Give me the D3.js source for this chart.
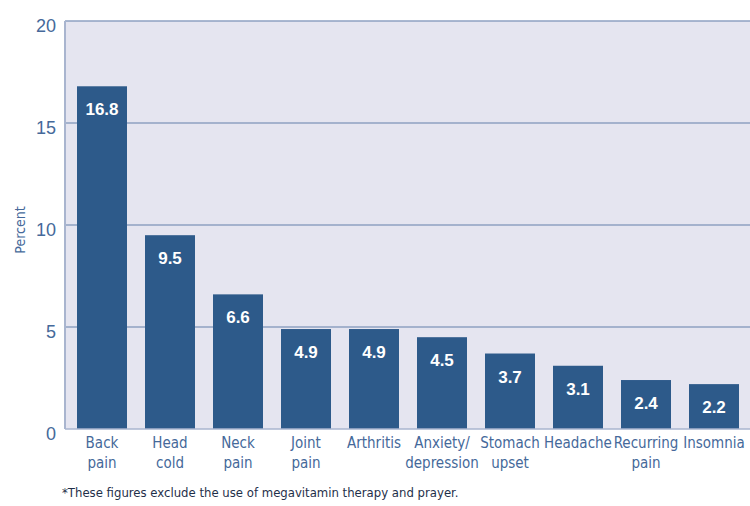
<!DOCTYPE html>
<html>
<head>
<meta charset="utf-8">
<script src="https://cdn.jsdelivr.net/npm/d3@7"></script>
<style>
  html, body { margin: 0; padding: 0; background: #ffffff; }
  svg { display: block; }
</style>
</head>
<body>
<svg id="chart" width="750" height="506"></svg>
<script>
// Conditions and the share of people (percent) using CAM for each
const categories = [
  ["Back", "pain"], ["Head", "cold"], ["Neck", "pain"], ["Joint", "pain"],
  ["Arthritis"], ["Anxiety/", "depression"], ["Stomach", "upset"],
  ["Headache"], ["Recurring", "pain"], ["Insomnia"]
];
const values = [16.8, 9.5, 6.6, 4.9, 4.9, 4.5, 3.7, 3.1, 2.4, 2.2];
const yTicks = [0, 5, 10, 15, 20];
const footnote = "*These figures exclude the use of megavitamin therapy and prayer.";

const svg = d3.select("#chart");
const narrow = "'Liberation Sans Narrow', 'DejaVu Sans Condensed', 'Arial Narrow', sans-serif";
const textBlue = "#45699a";

const plotLeft = 65, plotRight = 751, plotTop = 21, plotBottom = 429;

const x = d3.scaleBand()
  .domain(d3.range(values.length))
  .range([plotLeft, plotRight])
  .paddingInner(18 / 68)
  .paddingOuter(12 / 68);

const y = d3.scaleLinear().domain([0, 20]).range([plotBottom, plotTop]);

// plot background
svg.append("rect")
  .attr("x", plotLeft).attr("y", plotTop)
  .attr("width", 750 - plotLeft).attr("height", plotBottom - plotTop)
  .attr("fill", "#e5e5f0");

// horizontal gridlines
svg.append("g")
  .selectAll("line")
  .data(yTicks.filter(d => d > 0))
  .join("line")
  .attr("x1", plotLeft).attr("x2", 750)
  .attr("y1", d => y(d)).attr("y2", d => y(d))
  .attr("stroke", "#8ea0c2").attr("stroke-width", 1.5);

// left axis line
svg.append("line")
  .attr("x1", plotLeft).attr("x2", plotLeft)
  .attr("y1", plotTop).attr("y2", plotBottom)
  .attr("stroke", "#a9b5cf").attr("stroke-width", 2);

// bars
svg.append("g")
  .selectAll("rect")
  .data(values)
  .join("rect")
  .attr("x", (d, i) => x(i))
  .attr("y", d => y(d))
  .attr("width", x.bandwidth())
  .attr("height", d => y(0) - y(d))
  .attr("fill", "#2d5a8a");

// baseline
svg.append("line")
  .attr("x1", plotLeft).attr("x2", 750)
  .attr("y1", plotBottom).attr("y2", plotBottom)
  .attr("stroke", "#a9b5cf").attr("stroke-width", 1.5);

// value labels inside bars
svg.append("g")
  .selectAll("text")
  .data(values)
  .join("text")
  .attr("x", (d, i) => x(i) + x.bandwidth() / 2)
  .attr("y", d => y(d) + 29)
  .attr("text-anchor", "middle")
  .attr("fill", "#ffffff")
  .attr("font-family", "'Liberation Sans', Arial, sans-serif")
  .attr("font-weight", "bold")
  .attr("font-size", 17)
  .text(d => d.toFixed(1));

// y-axis tick labels
const yAxis = d3.axisLeft(y).tickValues(yTicks).tickSize(0).tickPadding(9);
const yg = svg.append("g").attr("transform", `translate(${plotLeft},0)`).call(yAxis);
yg.select(".domain").remove();
yg.selectAll("text")
  .attr("dy", "0.68em")
  .attr("y", -2)
  .attr("fill", textBlue)
  .attr("font-family", "'Liberation Sans', Arial, sans-serif")
  .attr("font-size", 18);

// y-axis title
svg.append("text")
  .attr("transform", "translate(25,230) rotate(-90)")
  .attr("text-anchor", "middle")
  .attr("fill", textBlue)
  .attr("font-family", narrow)
  .attr("font-size", 14)
  .text("Percent");

// category labels
const cat = svg.append("g")
  .selectAll("text")
  .data(categories)
  .join("text")
  .attr("x", (d, i) => x(i) + x.bandwidth() / 2)
  .attr("y", 448)
  .attr("text-anchor", "middle")
  .attr("fill", textBlue)
  .attr("font-family", narrow)
  .attr("font-size", 15);
cat.selectAll("tspan")
  .data(d => d)
  .join("tspan")
  .attr("x", function () { return d3.select(this.parentNode).attr("x"); })
  .attr("dy", (d, i) => i === 0 ? 0 : 20)
  .text(d => d);

// footnote
svg.append("text")
  .attr("x", 62).attr("y", 497)
  .attr("fill", "#1f2f4a")
  .attr("font-family", narrow)
  .attr("font-size", 13)
  .text(footnote);
</script>
</body>
</html>
